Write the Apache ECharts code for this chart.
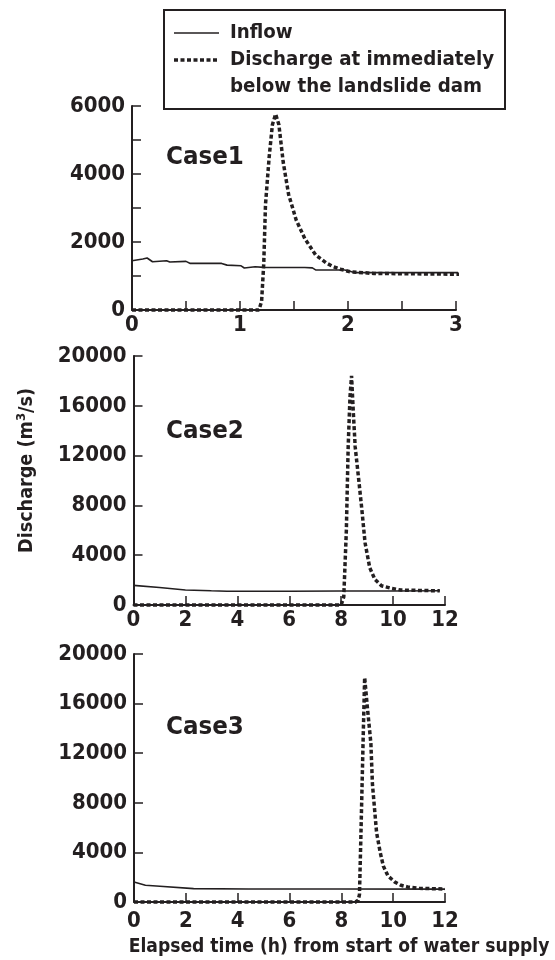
<!DOCTYPE html>
<html>
<head>
<meta charset="utf-8">
<script src="https://cdn.jsdelivr.net/npm/echarts@6/dist/echarts.min.js"></script>
<style>
html, body { margin: 0; padding: 0; background: #fff; }
#chart { width: 555px; height: 960px; }
</style>
</head>
<body>
<div id="chart"></div>
<script>
const ink = '#231f20'
const font = '"DejaVu Sans Condensed", "DejaVu Sans"'

// [elapsed time (h), discharge (m3/s)]
const case1Inflow = [[0, 1450], [0.1, 1500], [0.14, 1530], [0.19, 1420], [0.32, 1450], [0.35, 1410], [0.5, 1430], [0.54, 1370], [0.83, 1370], [0.88, 1320], [1.01, 1300], [1.04, 1235], [1.14, 1270], [1.22, 1255], [1.6, 1250], [1.67, 1240], [1.7, 1180], [1.97, 1175], [2.06, 1100], [3.06, 1100]]
const case1Discharge = [[0, 0], [1.175, 0], [1.2, 250], [1.22, 1370], [1.236, 3100], [1.27, 4500], [1.3, 5450], [1.33, 5760], [1.36, 5450], [1.4, 4350], [1.45, 3400], [1.52, 2650], [1.6, 2100], [1.7, 1620], [1.8, 1380], [1.86, 1280], [1.93, 1200], [2.02, 1125], [2.24, 1075], [3.06, 1050]]

const case2Inflow = [[0, 1580], [1, 1400], [2, 1210], [3, 1140], [3.6, 1110], [6, 1110], [8, 1120], [10, 1130], [11.8, 1140]]
const case2Discharge = [[0, 0], [8, 0], [8.1, 650], [8.2, 6000], [8.27, 12700], [8.34, 16700], [8.4, 18400], [8.47, 15400], [8.54, 12700], [8.68, 10000], [8.8, 7600], [8.92, 5000], [9.1, 3000], [9.3, 2050], [9.55, 1550], [9.94, 1340], [10.3, 1200], [11.8, 1140]]

const case3Inflow = [[0, 1615], [0.44, 1350], [1, 1270], [2.3, 1080], [4.4, 1050], [8, 1050], [12, 1040]]
const case3Discharge = [[0, 0], [8.55, 0], [8.65, 150], [8.7, 600], [8.75, 4900], [8.84, 13000], [8.9, 18100], [9.0, 15800], [9.14, 12800], [9.2, 9500], [9.36, 5600], [9.5, 4000], [9.62, 2900], [9.8, 2100], [10.07, 1600], [10.3, 1350], [10.58, 1200], [11, 1100], [12, 1050]]

const caseNames = ['Case1', 'Case2', 'Case3']
const xLabels1 = [0, 1, 2, 3]
const yLabels1 = [0, 2000, 4000, 6000]
const xLabels23 = [0, 2, 4, 6, 8, 10, 12]
const yLabels23 = [0, 4000, 8000, 12000, 16000, 20000]

const seriesNames = ['Inflow', 'Discharge at immediately below the landslide dam']

const panels = [
  { grid: { left: 132, top: 106, width: 324, height: 204 }, xMax: 3, xStep: 0.5, yMax: 6000, yStep: 1000,
    xLabels: xLabels1, yLabels: yLabels1, xMargin: 4, caseTop: 144, inflow: case1Inflow, discharge: case1Discharge },
  { grid: { left: 133.5, top: 356, width: 311.5, height: 249 }, xMax: 12, xStep: 2, yMax: 20000, yStep: 4000,
    xLabels: xLabels23, yLabels: yLabels23, xMargin: 4, caseTop: 418.5, inflow: case2Inflow, discharge: case2Discharge },
  { grid: { left: 134, top: 654, width: 311, height: 248 }, xMax: 12, xStep: 2, yMax: 20000, yStep: 4000,
    xLabels: xLabels23, yLabels: yLabels23, xMargin: 8, caseTop: 714.5, inflow: case3Inflow, discharge: case3Discharge }
]

const chart = echarts.init(document.getElementById('chart'))

const axisLine = { show: true, onZero: false, lineStyle: { color: ink, width: 2 } }
const axisTick = { show: true, inside: true, length: 9, lineStyle: { color: ink, width: 1.5 } }
const legendFont = 'bold 20.3px "DejaVu Sans Condensed", "DejaVu Sans"'

const option = {
  backgroundColor: '#fff',
  animation: false,
  title: panels.map((p, i) => ({
    text: caseNames[i],
    left: 166,
    top: p.caseTop,
    padding: 0,
    textStyle: { color: ink, fontFamily: font, fontSize: 25.6, fontWeight: 'bold' }
  })),
  grid: panels.map(p => p.grid),
  xAxis: panels.map((p, i) => ({
    gridIndex: i,
    type: 'value',
    min: 0,
    max: p.xMax,
    interval: p.xStep,
    axisLine,
    axisTick,
    splitLine: { show: false },
    axisLabel: {
      color: ink, fontFamily: font, fontSize: 22, fontWeight: 'bold', margin: p.xMargin,
      showMinLabel: true, showMaxLabel: true,
      formatter: v => p.xLabels.includes(v) ? String(v) : ''
    },
    name: i === 2 ? 'Elapsed time (h) from start of water supply' : '',
    nameLocation: 'middle',
    nameGap: 36,
    nameTextStyle: { color: ink, fontFamily: font, fontSize: 19.1, fontWeight: 'bold', padding: [0, 0, 0, 99] }
  })),
  yAxis: panels.map((p, i) => ({
    gridIndex: i,
    type: 'value',
    min: 0,
    max: p.yMax,
    interval: p.yStep,
    axisLine,
    axisTick,
    splitLine: { show: false },
    axisLabel: {
      color: ink, fontFamily: font, fontSize: 22, fontWeight: 'bold', margin: 7,
      showMinLabel: true, showMaxLabel: true,
      formatter: v => p.yLabels.includes(v) ? String(v) : ''
    },
    name: i === 1 ? 'Discharge (m{sup|3}/s)' : '',
    nameLocation: 'middle',
    nameRotate: 90,
    nameGap: 96,
    nameTextStyle: {
      color: ink, fontFamily: font, fontSize: 19.6, fontWeight: 'bold', padding: [0, 0, 0, 20],
      rich: { sup: { fontFamily: font, fontSize: 13, fontWeight: 'bold', verticalAlign: 'bottom', padding: [0, 0, 9, 0], color: ink } }
    }
  })),
  series: panels.flatMap((p, i) => [
    {
      name: seriesNames[0],
      type: 'line',
      xAxisIndex: i,
      yAxisIndex: i,
      data: p.inflow,
      symbol: 'none',
      clip: false,
      lineStyle: { color: ink, width: 1.6 }
    },
    {
      name: seriesNames[1],
      type: 'line',
      xAxisIndex: i,
      yAxisIndex: i,
      data: p.discharge,
      symbol: 'none',
      clip: false,
      lineStyle: { color: ink, width: 3.5, type: [4, 2.5], cap: 'butt' }
    }
  ]),
  graphic: [
    {
      type: 'group',
      left: 163,
      top: 9,
      children: [
        { type: 'rect', shape: { x: 0, y: 0, width: 341, height: 99 }, style: { fill: '#fff', stroke: ink, lineWidth: 2 } },
        { type: 'line', shape: { x1: 10, y1: 23, x2: 55, y2: 23 }, style: { stroke: ink, lineWidth: 1.6 } },
        { type: 'line', shape: { x1: 10, y1: 50, x2: 55, y2: 50 }, style: { stroke: ink, lineWidth: 3.5, lineDash: [4, 2.5] } },
        { type: 'text', x: 66, y: 23, style: { text: 'Inflow', fill: ink, font: legendFont, verticalAlign: 'middle' } },
        { type: 'text', x: 66, y: 50, style: { text: 'Discharge at immediately', fill: ink, font: legendFont, verticalAlign: 'middle' } },
        { type: 'text', x: 66, y: 77, style: { text: 'below the landslide dam', fill: ink, font: legendFont, verticalAlign: 'middle' } }
      ]
    }
  ]
}

chart.setOption(option)
</script>
</body>
</html>
